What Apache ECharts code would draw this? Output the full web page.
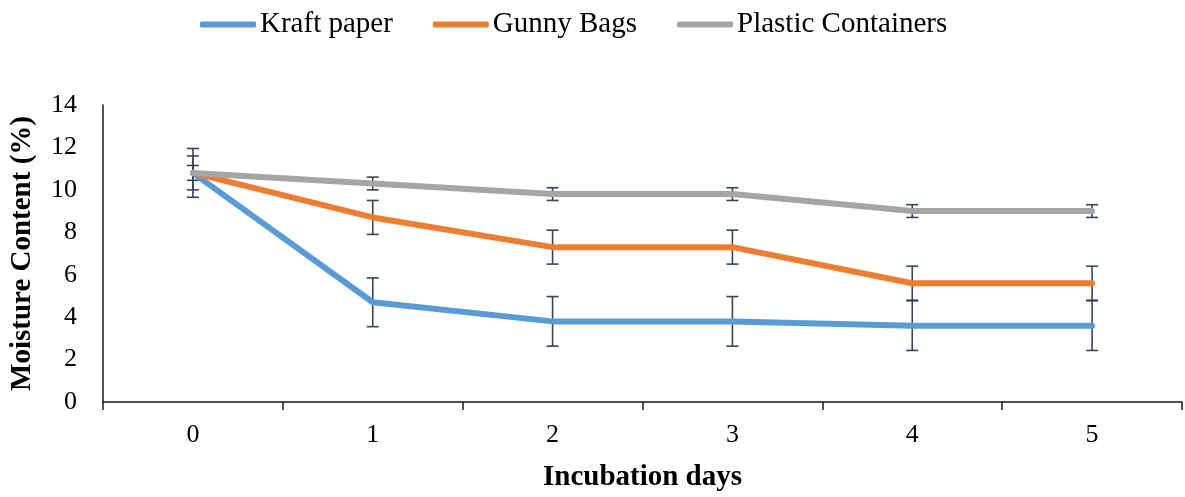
<!DOCTYPE html>
<html>
<head>
<meta charset="utf-8">
<script src="https://cdn.jsdelivr.net/npm/echarts@6/dist/echarts.min.js"></script>
<style>
html,body{margin:0;padding:0;background:#fff;}
#chart{width:1185px;height:497px;}
</style>
</head>
<body>
<div id="chart"></div>
<script>
const categories = ['0', '1', '2', '3', '4', '5'];
const kraft = [10.8, 4.7, 3.8, 3.8, 3.6, 3.6];
const gunny = [10.8, 8.7, 7.3, 7.3, 5.6, 5.6];
const plastic = [10.8, 10.3, 9.8, 9.8, 9.0, 9.0];
const kraftErr = [1.15, 1.15, 1.17, 1.17, 1.17, 1.17];
const gunnyErr = [0.8, 0.8, 0.8, 0.8, 0.8, 0.8];
const plasticErr = [0.35, 0.3, 0.3, 0.3, 0.3, 0.3];
const yTicks = [0, 2, 4, 6, 8, 10, 12, 14];

const FONT = '"Liberation Serif", "Times New Roman", serif';
const ERR_COLOR = '#38445a';

function errData(vals, errs) {
  return vals.map((v, i) => [i, v, errs[i]]);
}
function errRender(params, api) {
  const x = api.value(0), y = api.value(1), e = api.value(2);
  const top = api.coord([x, y + e]);
  const bot = api.coord([x, y - e]);
  const hw = 6;
  const st = { stroke: ERR_COLOR, lineWidth: 1.6 };
  return {
    type: 'group',
    children: [
      { type: 'line', shape: { x1: top[0], y1: top[1], x2: bot[0], y2: bot[1] }, style: st },
      { type: 'line', shape: { x1: top[0] - hw, y1: top[1], x2: top[0] + hw, y2: top[1] }, style: st },
      { type: 'line', shape: { x1: bot[0] - hw, y1: bot[1], x2: bot[0] + hw, y2: bot[1] }, style: st }
    ]
  };
}
function lineSeries(name, data, color) {
  return {
    name: name, type: 'line', data: data, showSymbol: false, symbol: 'none',
    itemStyle: { color: color },
    lineStyle: { color: color, width: 6, cap: 'round', join: 'round' },
    animation: false
  };
}
function errSeries(name, vals, errs) {
  return {
    name: name, type: 'custom', renderItem: errRender, data: errData(vals, errs),
    encode: { x: 0, y: 1 }, animation: false, silent: true
  };
}

const chart = echarts.init(document.getElementById('chart'));
chart.setOption({
  backgroundColor: '#fff',
  animation: false,
  legend: {
    data: ['Kraft paper', 'Gunny Bags', 'Plastic Containers'],
    left: 195, top: 5,
    icon: 'roundRect',
    itemWidth: 56, itemHeight: 6, itemGap: 40,
    textStyle: { fontFamily: FONT, fontSize: 29, color: '#000', padding: [0, 0, 0, -1] }
  },
  grid: { left: 102, right: 3, top: 105, bottom: 94, containLabel: false },
  xAxis: {
    type: 'category', data: categories, boundaryGap: true,
    name: 'Incubation days', nameLocation: 'middle', nameGap: 61,
    nameTextStyle: { fontFamily: FONT, fontSize: 29, fontWeight: 'bold', color: '#000' },
    axisLine: { show: true, lineStyle: { color: '#1a1a1a', width: 1.5 } },
    axisTick: { show: true, length: 8, alignWithLabel: false, lineStyle: { color: '#1a1a1a', width: 1.5 } },
    axisLabel: { fontFamily: FONT, fontSize: 26, color: '#000', margin: 20 },
    splitLine: { show: false }
  },
  yAxis: {
    type: 'value', min: yTicks[0], max: yTicks[yTicks.length - 1], interval: 2,
    name: 'Moisture Content (%)', nameLocation: 'middle', nameGap: 66,
    nameTextStyle: { fontFamily: FONT, fontSize: 29, fontWeight: 'bold', color: '#000' },
    axisLine: { show: true, lineStyle: { color: '#1a1a1a', width: 1.5 } },
    axisTick: { show: false },
    axisLabel: { fontFamily: FONT, fontSize: 26, color: '#000', margin: 26 },
    splitLine: { show: false }
  },
  series: [
    lineSeries('Kraft paper', kraft, '#5b9bd5'),
    errSeries('kraftErr', kraft, kraftErr),
    lineSeries('Gunny Bags', gunny, '#ed7d31'),
    errSeries('gunnyErr', gunny, gunnyErr),
    lineSeries('Plastic Containers', plastic, '#a5a5a5'),
    errSeries('plasticErr', plastic, plasticErr)
  ]
});
</script>
</body>
</html>
